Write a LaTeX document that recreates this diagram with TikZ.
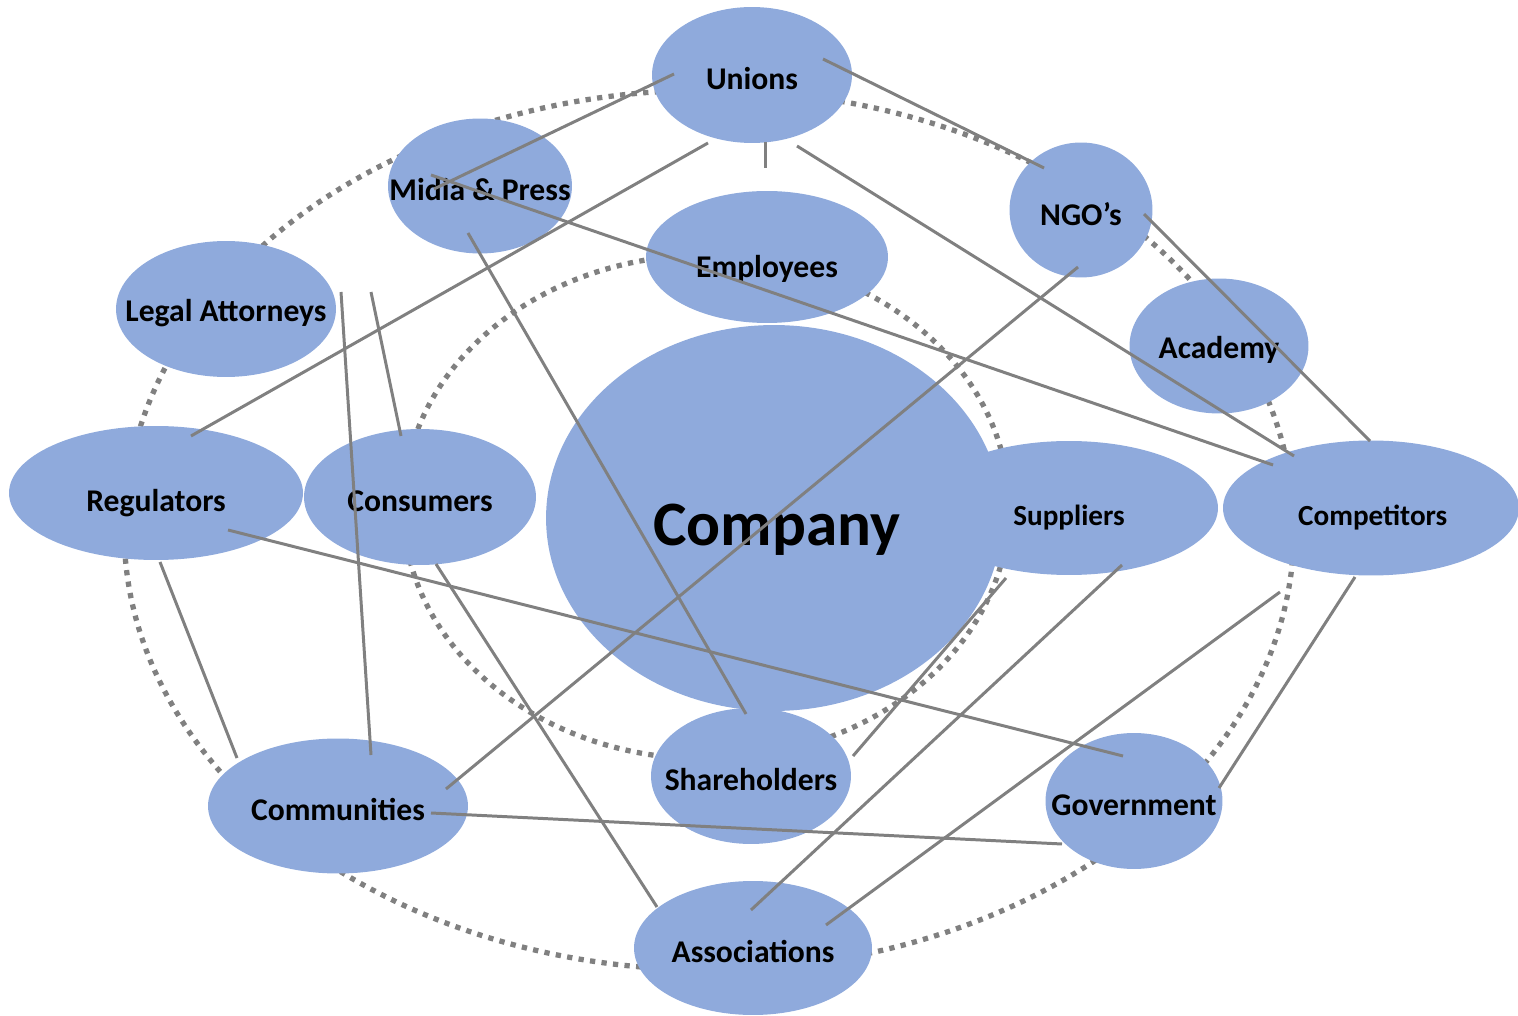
\documentclass[tikz,border=0pt]{standalone}
\usepackage{fontspec}
\setmainfont{Carlito}
\usetikzlibrary{shapes.geometric}
\definecolor{blue1}{HTML}{8FAADC}
\definecolor{gray1}{HTML}{808080}

\begin{document}
\begin{tikzpicture}[x=0.02cm, y=-0.02cm]
    \tikzstyle{party} = [ellipse, fill=blue1, draw=none, inner sep=0pt]
    \tikzstyle{every label} = [text=black, yshift=-2.2pt, font=\bfseries\fontsize{18}{22}\selectfont]
    \tikzstyle{small} = [font=\bfseries\fontsize{16.6}{20}\selectfont]
    \tikzstyle{ring} = [draw=gray1, line width=3pt, dash pattern=on 3pt off 3.6pt]
    \tikzstyle{link} = [draw=gray1, line width=1.7pt]

    \useasboundingbox (0,0) rectangle (1518,1016);

    \draw[ring] (709,530) ellipse (11.7cm and 8.8cm);
    \draw[ring] (706,507) ellipse (6.06cm and 5.04cm);

    \node[party, minimum width=4cm,    minimum height=2.72cm, label=center:Unions]          (unions)       at (752,75)  {};
    \node[party, minimum width=3.68cm, minimum height=2.7cm,  label=center:Midia \& Press]  (midia)        at (480,186) {};
    \node[party, minimum width=2.86cm, minimum height=2.7cm,  label=center:NGO’s]           (ngo)          at (1081,210) {};
    \node[party, minimum width=4.84cm, minimum height=2.64cm, label={[yshift=-4.5pt]center:Employees}] (employees) at (767,257) {};
    \node[party, minimum width=4.4cm,  minimum height=2.72cm, label=center:Legal Attorneys] (legal)        at (226,309) {};
    \node[party, minimum width=3.58cm, minimum height=2.7cm,  label=center:Academy]         (academy)      at (1219,346) {};
    \node[party, minimum width=9.12cm, minimum height=7.72cm,
          label={[xshift=1.5pt, yshift=-4.5pt, font=\bfseries\fontsize{36}{40}\selectfont]center:Company}] (company) at (774,518) {};
    \node[party, minimum width=5.88cm, minimum height=2.68cm, label={[yshift=-3.5pt]center:Regulators}]  (regulators)  at (156,493) {};
    \node[party, minimum width=4.64cm, minimum height=2.72cm, label=center:Consumers]       (consumers)    at (420,497) {};
    \node[party, minimum width=5.96cm, minimum height=2.68cm, label={[small, yshift=-3pt]center:Suppliers}]       (suppliers)   at (1069,508) {};
    \node[party, minimum width=5.92cm, minimum height=2.7cm,  label={[small, yshift=-3pt, xshift=1pt]center:Competitors}] (competitors) at (1371,508) {};
    \node[party, minimum width=4cm,    minimum height=2.72cm, label=center:Shareholders]    (shareholders) at (751,776) {};
    \node[party, minimum width=3.54cm, minimum height=2.72cm, label=center:Government]      (government)   at (1134,801) {};
    \node[party, minimum width=5.2cm,  minimum height=2.7cm,  label=center:Communities]     (communities)  at (338,806) {};
    \node[party, minimum width=4.76cm, minimum height=2.68cm, label=center:Associations]    (associations) at (753,948) {};

    \coordinate (un1) at (674,74);   \coordinate (un2) at (708,143);
    \coordinate (un3) at (765,142);  \coordinate (un4) at (765,168);
    \coordinate (un5) at (823,59);   \coordinate (un6) at (797,146);
    \coordinate (mp1) at (434,189);  \coordinate (mp2) at (431,175);
    \coordinate (mp3) at (468,233);
    \coordinate (ng1) at (1044,168); \coordinate (ng2) at (1078,267);
    \coordinate (ng3) at (1144,214);
    \coordinate (la1) at (341,292);  \coordinate (la2) at (371,292);
    \coordinate (rg1) at (191,436);  \coordinate (rg2) at (228,530);
    \coordinate (rg3) at (160,562);
    \coordinate (cn1) at (401,436);  \coordinate (cn2) at (436,564);
    \coordinate (sp1) at (1006,578); \coordinate (sp2) at (1122,565);
    \coordinate (cp1) at (1294,456); \coordinate (cp2) at (1273,465);
    \coordinate (cp3) at (1370,441); \coordinate (cp4) at (1280,592);
    \coordinate (cp5) at (1355,577);
    \coordinate (sh1) at (746,714);  \coordinate (sh2) at (853,756);
    \coordinate (gv1) at (1123,756); \coordinate (gv2) at (1062,844);
    \coordinate (gv3) at (1219,788);
    \coordinate (cm1) at (371,755);  \coordinate (cm2) at (446,789);
    \coordinate (cm3) at (237,758);  \coordinate (cm4) at (431,813);
    \coordinate (as1) at (657,907);  \coordinate (as2) at (751,910);
    \coordinate (as3) at (826,925);

    \path[link] (un1) edge node {} (mp1)
                (un2) edge node {} (rg1)
                (un3) edge node {} (un4)
                (un5) edge node {} (ng1)
                (un6) edge node {} (cp1)
                (mp2) edge node {} (cp2)
                (mp3) edge node {} (sh1)
                (la1) edge node {} (cm1)
                (la2) edge node {} (cn1)
                (ng2) edge node {} (cm2)
                (ng3) edge node {} (cp3)
                (rg2) edge node {} (gv1)
                (rg3) edge node {} (cm3)
                (cn2) edge node {} (as1)
                (cm4) edge node {} (gv2)
                (sp1) edge node {} (sh2)
                (sp2) edge node {} (as2)
                (cp4) edge node {} (as3)
                (cp5) edge node {} (gv3);

\end{tikzpicture}
\end{document}
